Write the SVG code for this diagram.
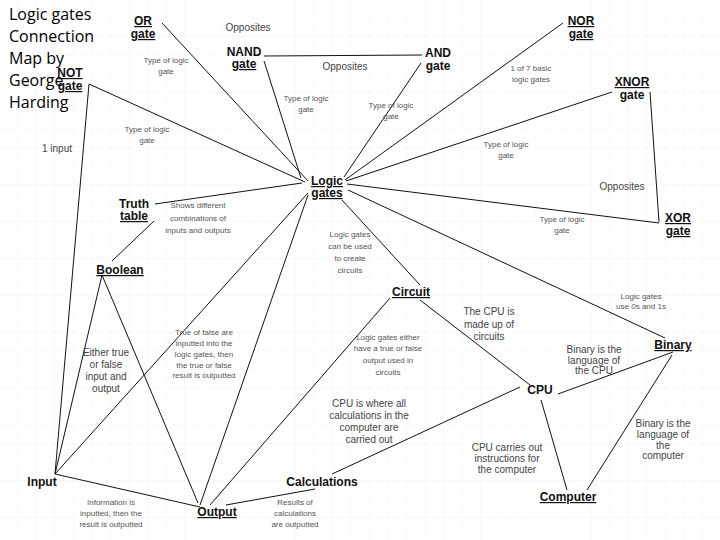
<svg xmlns="http://www.w3.org/2000/svg" width="720" height="540" viewBox="0 0 720 540">
<style>
.n{font-family:"Liberation Sans",Arial,sans-serif;font-weight:bold;font-size:12px;fill:#111;text-anchor:middle}
.u{text-decoration:underline}
.l{font-family:"Liberation Sans",Arial,sans-serif;font-size:8px;fill:#555;text-anchor:middle}
.m{font-family:"Liberation Sans",Arial,sans-serif;font-size:10px;fill:#444;text-anchor:middle}
.t{font-family:"Open Sans","Liberation Sans",sans-serif;font-size:16px;fill:#000}
#edges line{stroke:#111;stroke-width:1}
</style>
<defs><pattern id="g" width="18.5" height="18.5" patternUnits="userSpaceOnUse"><path d="M18.5 0V18.5H0" fill="none" stroke="#ececec" stroke-width="0.6"/></pattern></defs>
<rect width="720" height="540" fill="#fff"/>
<rect width="720" height="540" fill="url(#g)"/>
<g id="edges">
<line x1="162" y1="23" x2="308" y2="181"/>
<line x1="89" y1="84" x2="305" y2="182"/>
<line x1="89" y1="84" x2="55" y2="474"/>
<line x1="264" y1="56" x2="422" y2="55"/>
<line x1="264" y1="61" x2="301" y2="178"/>
<line x1="421" y1="63" x2="344" y2="177"/>
<line x1="563" y1="23" x2="345" y2="180"/>
<line x1="612" y1="92" x2="346" y2="181"/>
<line x1="650" y1="92" x2="659" y2="222"/>
<line x1="347" y1="184" x2="659" y2="223"/>
<line x1="155" y1="204" x2="302" y2="183"/>
<line x1="154" y1="221" x2="112" y2="261"/>
<line x1="102" y1="275" x2="55" y2="474"/>
<line x1="102" y1="275" x2="198" y2="503"/>
<line x1="308" y1="193" x2="55" y2="474"/>
<line x1="308" y1="195" x2="200" y2="505"/>
<line x1="390" y1="298" x2="210" y2="505"/>
<line x1="342" y1="200" x2="420" y2="285"/>
<line x1="348" y1="190" x2="665" y2="338"/>
<line x1="420" y1="300" x2="530" y2="385"/>
<line x1="558" y1="394" x2="673" y2="352"/>
<line x1="541" y1="400" x2="567" y2="490"/>
<line x1="672" y1="355" x2="587" y2="490"/>
<line x1="520" y1="387" x2="332" y2="474"/>
<line x1="55" y1="474" x2="200" y2="507"/>
<line x1="315" y1="489" x2="226" y2="505"/>
</g>
<g id="title"><text class="t" x="9" y="20">Logic gates</text><text class="t" x="9" y="42">Connection</text><text class="t" x="9" y="64">Map by</text><text class="t" x="9" y="86">George</text><text class="t" x="9" y="108">Harding</text></g>
<g id="or"><text class="n u" x="143" y="25">OR</text><text class="n u" x="143" y="38">gate</text></g>
<g id="not"><text class="n u" x="70" y="77">NOT</text><text class="n u" x="70" y="90">gate</text></g>
<g id="nand"><text class="n" x="244" y="56">NAND</text><text class="n u" x="244" y="68">gate</text></g>
<g id="and"><text class="n" x="438" y="57">AND</text><text class="n" x="438" y="70">gate</text></g>
<g id="nor"><text class="n u" x="581" y="25">NOR</text><text class="n u" x="581" y="38">gate</text></g>
<g id="xnor"><text class="n u" x="632" y="86">XNOR</text><text class="n" x="632" y="99">gate</text></g>
<g id="xor"><text class="n u" x="678" y="222">XOR</text><text class="n u" x="678" y="235">gate</text></g>
<g id="logic"><text class="n u" x="327" y="185">Logic</text><text class="n u" x="327" y="197">gates</text></g>
<g id="truth"><text class="n" x="134" y="208">Truth</text><text class="n u" x="134" y="220">table</text></g>
<g id="boolean"><text class="n u" x="120" y="274">Boolean</text></g>
<g id="circuit"><text class="n u" x="411" y="296">Circuit</text></g>
<g id="cpu"><text class="n" x="540" y="394">CPU</text></g>
<g id="binary"><text class="n u" x="673" y="349">Binary</text></g>
<g id="computer"><text class="n u" x="568" y="501">Computer</text></g>
<g id="calc"><text class="n" x="322" y="486">Calculations</text></g>
<g id="input"><text class="n" x="42" y="486">Input</text></g>
<g id="output"><text class="n u" x="217" y="516">Output</text></g>
<g id="labels">
<text class="m" x="248" y="31">Opposites</text>
<text class="l" x="166" y="63">Type of logic</text><text class="l" x="166" y="74">gate</text>
<text class="m" x="345" y="70">Opposites</text>
<text class="l" x="306" y="101">Type of logic</text><text class="l" x="306" y="112">gate</text>
<text class="l" x="391" y="108">Type of logic</text><text class="l" x="391" y="119">gate</text>
<text class="l" x="531" y="71">1 of 7 basic</text><text class="l" x="531" y="82">logic gates</text>
<text class="l" x="147" y="132">Type of logic</text><text class="l" x="147" y="143">gate</text>
<text class="m" x="57" y="152">1 input</text>
<text class="l" x="506" y="147">Type of logic</text><text class="l" x="506" y="158">gate</text>
<text class="m" x="622" y="190">Opposites</text>
<text class="l" x="198" y="208">Shows different</text><text class="l" x="198" y="221">combinations of</text><text class="l" x="198" y="233">inputs and outputs</text>
<text class="l" x="562" y="222">Type of logic</text><text class="l" x="562" y="233">gate</text>
<text class="l" x="350" y="237">Logic gates</text><text class="l" x="350" y="249">can be used</text><text class="l" x="350" y="261">to create</text><text class="l" x="350" y="273">circuits</text>
<text class="l" x="641" y="299">Logic gates</text><text class="l" x="641" y="309">use 0s and 1s</text>
<text class="m" x="489" y="315">The CPU is</text><text class="m" x="489" y="328">made up of</text><text class="m" x="489" y="340">circuits</text>
<text class="l" x="204" y="335">True of false are</text><text class="l" x="204" y="346">inputted into the</text><text class="l" x="204" y="357">logic gates, then</text><text class="l" x="204" y="368">the true or false</text><text class="l" x="204" y="378">result is outputted</text>
<text class="l" x="388" y="340">Logic gates either</text><text class="l" x="388" y="351">have a true or false</text><text class="l" x="388" y="363">output used in</text><text class="l" x="388" y="375">circuits</text>
<text class="m" x="106" y="356">Either true</text><text class="m" x="106" y="368">or false</text><text class="m" x="106" y="380">input and</text><text class="m" x="106" y="392">output</text>
<text class="m" x="594" y="353">Binary is the</text><text class="m" x="594" y="364">language of</text><text class="m" x="594" y="374">the CPU</text>
<text class="m" x="369" y="407">CPU is where all</text><text class="m" x="369" y="419">calculations in the</text><text class="m" x="369" y="431">computer are</text><text class="m" x="369" y="443">carried out</text>
<text class="m" x="663" y="427">Binary is the</text><text class="m" x="663" y="438">language of</text><text class="m" x="663" y="449">the</text><text class="m" x="663" y="459">computer</text>
<text class="m" x="507" y="451">CPU carries out</text><text class="m" x="507" y="462">instructions for</text><text class="m" x="507" y="473">the computer</text>
<text class="l" x="111" y="505">Information is</text><text class="l" x="111" y="516">inputted, then the</text><text class="l" x="111" y="527">result is outputted</text>
<text class="l" x="295" y="505">Results of</text><text class="l" x="295" y="516">calculations</text><text class="l" x="295" y="527">are outputted</text>
</g>
</svg>
